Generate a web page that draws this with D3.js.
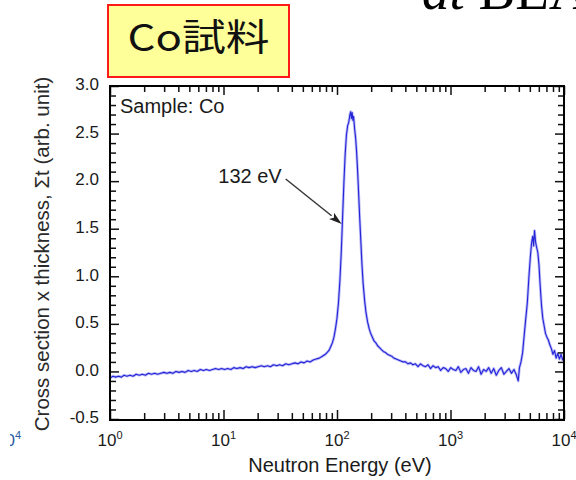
<!DOCTYPE html>
<html>
<head>
<meta charset="utf-8">
<script src="https://cdn.jsdelivr.net/npm/d3@7"></script>
<style>
  body { margin: 0; background: #fff; }
  svg { display: block; }
</style>
</head>
<body>
<svg id="chart" width="576" height="480"></svg>
<script>
// Measured transmission cross section of the Co sample (arb. unit) against neutron energy (eV)
const energyEV = [
  1.00, 1.06, 1.12, 1.19, 1.26, 1.33, 1.41, 1.50, 1.60, 1.70, 1.81, 1.93, 2.05, 2.18, 2.32, 2.47,
  2.63, 2.80, 2.98, 3.17, 3.37, 3.58, 3.81, 4.05, 4.31, 4.59, 4.88, 5.19, 5.52, 5.87, 6.25, 6.65,
  7.07, 7.52, 8.00, 8.51, 9.05, 9.63, 10.2, 10.9, 11.6, 12.3, 13.1, 14.0, 14.9, 15.8, 16.8, 17.9,
  19.0, 20.2, 21.5, 22.9, 24.4, 25.9, 27.6, 29.4, 31.2, 33.2, 35.4, 37.6, 40.0, 42.6, 45.3, 48.2,
  51.3, 54.5, 58.0, 61.7, 65.6, 69.8, 74.3, 79.0, 82.0, 85.0, 88.0, 91.0, 94.0, 97.0, 100, 103,
  106, 109, 112, 115, 118, 121, 124, 127, 130, 132, 134, 136, 138, 140, 143, 146,
  149, 152, 155, 158, 162, 166, 170, 175, 180, 186, 192, 198, 205, 212, 220, 228,
  237, 246, 256, 267, 278, 290, 303, 317, 332, 348, 365, 383, 402, 422, 444, 467,
  491, 517, 544, 572, 602, 634, 667, 702, 739, 778, 819, 862, 907, 955, 1005, 1058,
  1114, 1172, 1234, 1299, 1367, 1439, 1515, 1595, 1679, 1767, 1860, 1958, 2061, 2170, 2284, 2404,
  2531, 2664, 2804, 2952, 3107, 3271, 3443, 3624, 3815, 3950, 4050, 4180, 4320, 4460, 4600, 4750,
  4900, 5050, 5180, 5300, 5400, 5500, 5620, 5750, 5880, 6020, 6170, 6330, 6500, 6680, 6870, 7070,
  7280, 7500, 7740, 7990, 8250, 8520, 8810, 9110, 9420, 9740, 10000
];
const sigmaT = [
  -0.07, -0.05, -0.06, -0.05, -0.06, -0.04, -0.05, -0.04, -0.05, -0.03, -0.04, -0.03, -0.04, -0.02, -0.03, -0.02,
  -0.03, -0.02, -0.01, -0.02, -0.01, -0.02, 0.00, -0.01, 0.00, -0.01, 0.01, 0.00, 0.01, 0.00, 0.02, 0.01,
  0.02, 0.01, 0.02, 0.03, 0.02, 0.03, 0.02, 0.03, 0.02, 0.04, 0.03, 0.04, 0.03, 0.05, 0.04, 0.05,
  0.04, 0.05, 0.06, 0.05, 0.06, 0.05, 0.07, 0.06, 0.07, 0.06, 0.08, 0.07, 0.08, 0.09, 0.08, 0.10,
  0.09, 0.11, 0.10, 0.12, 0.13, 0.14, 0.16, 0.18, 0.20, 0.22, 0.26, 0.30, 0.36, 0.45, 0.56, 0.72,
  0.95, 1.25, 1.62, 1.98, 2.28, 2.48, 2.58, 2.62, 2.70, 2.73, 2.66, 2.72, 2.64, 2.68, 2.55, 2.45,
  2.30, 2.10, 1.88, 1.65, 1.38, 1.12, 0.92, 0.75, 0.62, 0.52, 0.45, 0.40, 0.36, 0.32, 0.30, 0.27,
  0.25, 0.23, 0.21, 0.20, 0.18, 0.17, 0.16, 0.14, 0.13, 0.12, 0.11, 0.10, 0.10, 0.08, 0.09, 0.07,
  0.08, 0.05, 0.08, 0.06, 0.05, 0.07, 0.03, 0.06, 0.04, 0.05, 0.01, 0.04, 0.03, 0.00, 0.04, 0.02,
  0.01, 0.05, -0.01, 0.02, 0.03, -0.02, 0.04, 0.01, 0.00, 0.05, -0.03, 0.02, 0.00, 0.04, -0.02, 0.03,
  -0.04, 0.01, 0.04, -0.03, 0.00, 0.03, -0.02, 0.02, -0.04, -0.10, 0.04, 0.10, 0.20, 0.38, 0.55, 0.72,
  0.98, 1.20, 1.35, 1.42, 1.32, 1.48, 1.36, 1.30, 1.25, 1.12, 0.90, 0.70, 0.56, 0.48, 0.40, 0.36,
  0.33, 0.28, 0.24, 0.18, 0.22, 0.14, 0.19, 0.13, 0.18, 0.12, 0.16
];

const xMajorTicks = [1, 10, 100, 1000, 10000];
const xTickExponents = ["0", "1", "2", "3", "4"];
const yMajorTicks = [-0.5, 0, 0.5, 1.0, 1.5, 2.0, 2.5, 3.0];
const yTickLabels = ["-0.5", "0.0", "0.5", "1.0", "1.5", "2.0", "2.5", "3.0"];

const peakEnergy = 132;
const peakLabel = "132 eV";
const sampleLabel = "Sample: Co";
const boxTitle = "Co試料";
const xTitle = "Neutron Energy (eV)";
const yTitle = "Cross section x thickness, Σt (arb. unit)";

const sans = "'Liberation Sans', Arial, Helvetica, sans-serif";
const svg = d3.select("#chart");
const defs = svg.append("defs");

// Plot area and scales
const plot = { left: 110, right: 564, top: 86, bottom: 419 };
const x = d3.scaleLog().domain([1, 1e4]).range([plot.left, plot.right]);
const y = d3.scaleLinear().domain([-0.5, 3.0]).range([plot.bottom, plot.top]);

const xMinorTicks = [];
for (let d = 0; d < 4; d++) for (let m = 2; m <= 9; m++) xMinorTicks.push(m * Math.pow(10, d));
const yMinorTicks = d3.range(-5, 31).map(i => i / 10).filter(v => Math.abs(v * 2 - Math.round(v * 2)) > 1e-6);

// Heading fragment at the page top
const heading = svg.append("text")
  .attr("x", 422).attr("y", 9)
  .attr("font-family", "'Liberation Serif', 'Times New Roman', serif")
  .attr("font-size", 55).attr("fill", "#000");
heading.append("tspan").attr("font-style", "italic").text("at");
heading.append("tspan").text(" BEA");

// Sample tag box
svg.append("rect")
  .attr("x", 108).attr("y", 5).attr("width", 181).attr("height", 72)
  .attr("fill", "#ffff99").attr("stroke", "#ff1a1a").attr("stroke-width", 2);
svg.append("text")
  .attr("x", 198.5).attr("y", 51)
  .attr("text-anchor", "middle")
  .attr("font-family", "'Noto Sans CJK JP', 'Noto Sans CJK SC', sans-serif")
  .attr("font-size", 37).attr("fill", "#111")
  .attr("textLength", 142).attr("lengthAdjust", "spacingAndGlyphs")
  .text(boxTitle);

// Data trace
defs.append("clipPath").attr("id", "plotClip")
  .append("rect").attr("x", plot.left).attr("y", plot.top)
  .attr("width", plot.right - plot.left).attr("height", plot.bottom - plot.top + 2);

const series = energyEV.map((e, i) => [e, sigmaT[i]]);
const line = d3.line().x(d => x(d[0])).y(d => y(d[1]));
const trace = svg.append("g").attr("clip-path", "url(#plotClip)");
trace.append("path").datum(series)
  .attr("d", line).attr("fill", "none")
  .attr("stroke", "#6a6aec").attr("stroke-width", 2.8).attr("stroke-opacity", 0.45)
  .attr("stroke-linejoin", "round");
trace.append("path").datum(series)
  .attr("d", line).attr("fill", "none")
  .attr("stroke", "#2323d8").attr("stroke-width", 1.1)
  .attr("stroke-linejoin", "round");

// Tick marks on all four sides, pointing inward
function ticks(axisGen, values, size, transform) {
  const g = svg.append("g").attr("transform", transform)
    .call(axisGen.tickValues(values).tickSize(size).tickFormat(""));
  g.select(".domain").remove();
  g.selectAll(".tick line").attr("stroke", "#111").attr("stroke-width", 1.5);
  return g;
}
ticks(d3.axisBottom(x), xMajorTicks, -9, `translate(0,${plot.bottom})`);
ticks(d3.axisBottom(x), xMinorTicks, -6, `translate(0,${plot.bottom})`);
ticks(d3.axisTop(x), xMajorTicks, -9, `translate(0,${plot.top})`);
ticks(d3.axisTop(x), xMinorTicks, -6, `translate(0,${plot.top})`);
ticks(d3.axisLeft(y), yMajorTicks, -9, `translate(${plot.left},0)`);
ticks(d3.axisLeft(y), yMinorTicks, -6, `translate(${plot.left},0)`);
ticks(d3.axisRight(y), yMajorTicks, -9, `translate(${plot.right},0)`);
ticks(d3.axisRight(y), yMinorTicks, -6, `translate(${plot.right},0)`);

// Frame
svg.append("rect")
  .attr("x", plot.left).attr("y", plot.top)
  .attr("width", plot.right - plot.left).attr("height", plot.bottom - plot.top + 1)
  .attr("fill", "none").attr("stroke", "#000").attr("stroke-width", 2);

// Y tick labels
const yLab = svg.append("g").attr("transform", `translate(${plot.left},0)`)
  .call(d3.axisLeft(y).tickValues(yMajorTicks).tickSize(0).tickPadding(11)
    .tickFormat((d, i) => yTickLabels[i]));
yLab.select(".domain").remove();
yLab.selectAll("text")
  .attr("font-family", sans).attr("font-size", 17).attr("fill", "#1a1a1a")
  .attr("dy", "0.22em");

// X tick labels as powers of ten
const xLab = svg.append("g");
xMajorTicks.forEach((v, i) => {
  const t = xLab.append("text")
    .attr("x", x(v)).attr("y", 446)
    .attr("text-anchor", "middle")
    .attr("font-family", sans).attr("font-size", 17).attr("fill", "#1a1a1a");
  t.append("tspan").text("10");
  t.append("tspan").attr("font-size", 11).attr("dy", -7).text(xTickExponents[i]);
});

// Edge of the neighbouring panel's axis label, only its right end showing
defs.append("clipPath").attr("id", "edgeClip")
  .append("rect").attr("x", 10).attr("y", 420).attr("width", 20).attr("height", 40);
const edge = svg.append("text")
  .attr("clip-path", "url(#edgeClip)")
  .attr("x", 21).attr("y", 446).attr("text-anchor", "end")
  .attr("font-family", sans).attr("font-size", 17).attr("fill", "#2d5aa0");
edge.append("tspan").text("10");
edge.append("tspan").attr("font-size", 11).attr("dy", -7).text("4");

// Axis titles
svg.append("text")
  .attr("x", 340).attr("y", 472).attr("text-anchor", "middle")
  .attr("font-family", sans).attr("font-size", 20).attr("fill", "#1a1a1a")
  .text(xTitle);
svg.append("text")
  .attr("transform", "translate(49,254) rotate(-90)")
  .attr("text-anchor", "middle")
  .attr("font-family", sans).attr("font-size", 20.5).attr("fill", "#2a2a2a")
  .text(yTitle);

// In-plot labels
svg.append("text")
  .attr("x", plot.left + 10).attr("y", 113)
  .attr("font-family", sans).attr("font-size", 20).attr("fill", "#1a1a1a")
  .text(sampleLabel);

// Resonance annotation with arrow
const px = x(peakEnergy);
const start = [px - 65, 179];
const tip = [px - 9, y(1.55)];
svg.append("text")
  .attr("x", px - 69).attr("y", 183).attr("text-anchor", "end")
  .attr("font-family", sans).attr("font-size", 20).attr("fill", "#1a1a1a")
  .text(peakLabel);
const dx = tip[0] - start[0], dy = tip[1] - start[1];
const len = Math.hypot(dx, dy), ux = dx / len, uy = dy / len;
const headLen = 13, headHalf = 4;
const base = [tip[0] - ux * headLen, tip[1] - uy * headLen];
svg.append("line")
  .attr("x1", start[0]).attr("y1", start[1])
  .attr("x2", base[0]).attr("y2", base[1])
  .attr("stroke", "#333").attr("stroke-width", 1.4);
svg.append("path")
  .attr("d", d3.line()([
    tip,
    [base[0] - uy * headHalf, base[1] + ux * headHalf],
    [base[0] + ux * 3, base[1] + uy * 3],
    [base[0] + uy * headHalf, base[1] - ux * headHalf]
  ]) + "Z")
  .attr("fill", "#222");
</script>
</body>
</html>
